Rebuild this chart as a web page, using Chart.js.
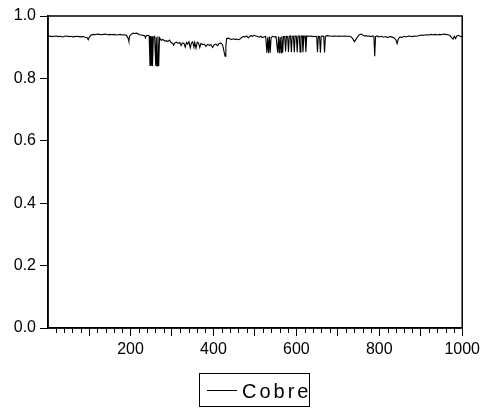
<!DOCTYPE html>
<html><head><meta charset="utf-8">
<script src="https://cdn.jsdelivr.net/npm/chart.js@4"></script>
<style>html,body{margin:0;padding:0;background:#fff}#wrap{width:484px;height:410px}</style>
</head><body><div id="wrap"><canvas id="c" width="484" height="410"></canvas></div>
<script>
const seriesName = "Cobre";
const xValues = [1,6,11,16,21,26,31,36,41,46,51,56,61,66,71,76,81,86,91,95,98,101,105,110,115,120,125,130,135,140,145,150,155,160,165,170,175,180,185,190,194,196,198,202,206,210,214,218,222,226,230,234,236,238,242,245,
247,249,250,252,253,255,258,261,262,264,266,268,270,
274,278,282,286,290,294,298,302,304,307,311,315,319,322,325,329,332,335,338,341,344,347,350,353,355,358,361,364,367,370,374,378,382,386,390,394,398,402,406,410,414,418,422,425,428,430,432,436,440,444,448,452,456,460,464,468,472,476,480,484,487,490,494,498,502,506,510,514,518,522,526,
529,531,533,535,537,539,543,547,551,555,557,559,561,563,565,567,569,572,574,576,579,581,583,586,588,590,593,595,597,600,602,604,607,609,611,614,616,618,621,623,625,630,635,640,645,649,651,653,656,658,660,663,666,668,670,674,680,686,692,698,704,710,716,722,728,733,737,740,744,748,752,756,760,764,768,772,776,780,784,787,789,791,795,800,805,810,815,820,825,830,835,840,843,846,850,855,860,865,870,875,880,885,890,895,900,905,910,915,920,925,930,935,940,945,950,955,960,965,970,975,978,981,984,987,991,995,1000];
const yValues = [0.935,0.936,0.934,0.935,0.936,0.934,0.935,0.933,0.935,0.936,0.934,0.935,0.933,0.934,0.935,0.934,0.933,0.934,0.932,0.931,0.924,0.933,0.939,0.941,0.940,0.942,0.941,0.940,0.941,0.942,0.940,0.941,0.940,0.941,0.939,0.940,0.941,0.939,0.940,0.938,0.930,0.919,0.936,0.941,0.945,0.944,0.945,0.943,0.940,0.939,0.938,0.937,0.930,0.937,0.938,0.936,
0.840,0.936,0.840,0.935,0.840,0.932,0.935,0.840,0.933,0.840,0.934,0.840,0.930,
0.922,0.925,0.920,0.921,0.918,0.923,0.915,0.912,0.906,0.914,0.916,0.912,0.915,0.905,0.914,0.912,0.900,0.915,0.910,0.917,0.898,0.913,0.917,0.900,0.915,0.897,0.916,0.913,0.899,0.912,0.908,0.910,0.903,0.909,0.906,0.908,0.899,0.908,0.910,0.905,0.912,0.913,0.908,0.890,0.871,0.905,0.928,0.929,0.926,0.925,0.927,0.925,0.926,0.924,0.926,0.931,0.934,0.933,0.936,0.930,0.934,0.937,0.935,0.938,0.936,0.934,0.932,0.935,0.931,0.933,0.935,
0.882,0.932,0.881,0.934,0.882,0.931,0.935,0.933,0.934,0.882,0.934,0.881,0.933,0.882,0.935,0.883,0.934,0.934,0.886,0.935,0.934,0.885,0.935,0.936,0.884,0.935,0.935,0.884,0.936,0.935,0.884,0.935,0.936,0.885,0.935,0.936,0.884,0.936,0.935,0.885,0.936,0.935,0.936,0.934,0.935,0.934,0.884,0.935,0.934,0.882,0.935,0.936,0.935,0.883,0.935,0.937,0.936,0.935,0.936,0.935,0.936,0.935,0.936,0.935,0.935,0.932,0.925,0.918,0.926,0.934,0.940,0.942,0.939,0.936,0.937,0.935,0.936,0.934,0.936,0.935,0.871,0.934,0.936,0.933,0.935,0.932,0.934,0.931,0.934,0.933,0.930,0.924,0.912,0.927,0.933,0.931,0.935,0.933,0.936,0.935,0.934,0.936,0.935,0.937,0.939,0.938,0.939,0.940,0.939,0.941,0.940,0.941,0.939,0.941,0.940,0.942,0.941,0.940,0.938,0.930,0.926,0.935,0.928,0.936,0.938,0.935,0.933];
const xTickValues = [100,200,300,400,500,600,700,800,900,1000];
const xLabelValues = [200,400,600,800,1000];
const yTickValues = [0,0.2,0.4,0.6,0.8,1.0];

const FONT = "'Liberation Sans', Arial, sans-serif";
const points = xValues.map((x,i)=>({x:x,y:yValues[i]}));

const extras = {
  id:'extras',
  afterDraw(chart){
    const ctx = chart.ctx, a = chart.chartArea, xs = chart.scales.x;
    ctx.save();
    ctx.strokeStyle = '#000';
    ctx.lineWidth = 1.5;
    ctx.strokeRect(a.left, a.top, a.right-a.left, a.bottom-a.top);
    // minor ticks
    ctx.lineWidth = 1;
    ctx.beginPath();
    for (let v = 20; v <= 1000; v += 20) {
      if (v % 100 === 0) continue;
      const px = Math.round(xs.getPixelForValue(v)) + 0.5;
      ctx.moveTo(px, a.bottom + 1);
      ctx.lineTo(px, a.bottom + 5);
    }
    ctx.stroke();
    // legend
    const lx = 199.5, ly = 373.5, lw = 110, lh = 33;
    ctx.lineWidth = 1;
    ctx.strokeRect(lx, ly, lw, lh);
    ctx.beginPath();
    ctx.moveTo(207, 390.5); ctx.lineTo(237, 390.5);
    ctx.stroke();
    ctx.fillStyle = '#000';
    ctx.font = '20px ' + FONT;
    ctx.letterSpacing = '3px';
    ctx.textBaseline = 'alphabetic';
    ctx.textAlign = 'left';
    ctx.fillText(chart.data.datasets[0].label, 242, 398);
    ctx.restore();
  }
};

new Chart(document.getElementById('c'), {
  type:'line',
  data:{datasets:[{label:seriesName,data:points,borderColor:'#000',borderWidth:1.1,pointRadius:0,tension:0,fill:false}]},
  options:{
    responsive:false, animation:false,
    layout:{padding:{left:0,right:19,top:16,bottom:0}},
    plugins:{legend:{display:false},tooltip:{enabled:false}},
    scales:{
      x:{type:'linear',min:1,max:1000,
        afterBuildTicks(s){ s.ticks = xTickValues.map(v=>({value:v})); },
        afterFit(s){ s.height = 82; },
        border:{display:true,color:'#000',width:1.5},
        grid:{display:true,drawOnChartArea:false,drawTicks:true,tickLength:8,color:'#000',offset:false},
        ticks:{autoSkip:false,maxRotation:0,padding:4,color:'#000',font:{family:FONT,size:16},
          callback:(v)=> xLabelValues.includes(v) ? String(v) : ''}
      },
      y:{type:'linear',min:0,max:1,
        afterBuildTicks(s){ s.ticks = yTickValues.map(v=>({value:v})); },
        afterFit(s){ s.width = 48; },
        border:{display:true,color:'#000',width:1.5},
        grid:{display:true,drawOnChartArea:false,drawTicks:true,tickLength:8,color:'#000'},
        ticks:{padding:4,color:'#000',font:{family:FONT,size:16},callback:(v)=>Number(v).toFixed(1)}
      }
    }
  },
  plugins:[extras]
});
</script></body></html>
